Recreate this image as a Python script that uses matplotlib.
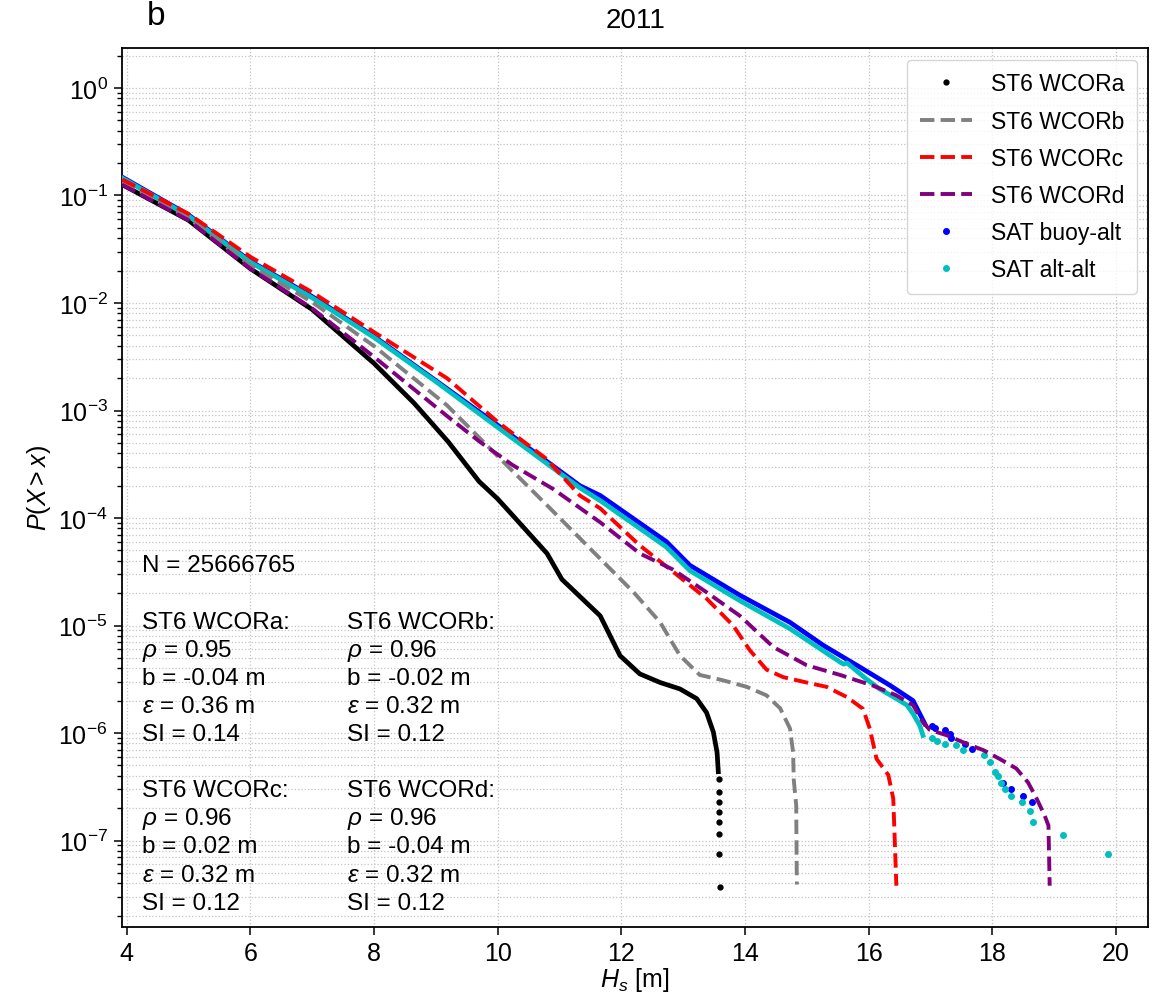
import matplotlib.pyplot as plt
from matplotlib.ticker import LogLocator, MultipleLocator, NullLocator, NullFormatter

plt.rcParams['font.family'] = ['Liberation Sans', 'DejaVu Sans']
plt.rcParams['mathtext.fontset'] = 'custom'
plt.rcParams['mathtext.rm'] = 'Liberation Sans'
plt.rcParams['mathtext.it'] = 'Liberation Sans:italic'
plt.rcParams['mathtext.bf'] = 'Liberation Sans:bold'

# exceedance probability P(X > x), Hs in m
# ST6 WCORa: dense part of the curve, then the last single points
hs_a = [3.93, 5.0, 6.0, 7.0, 8.0, 8.65, 9.2, 9.7, 10.0, 10.25, 10.8, 11.04,
        11.66, 11.98, 12.3, 12.63, 12.95, 13.22, 13.38, 13.49, 13.55, 13.57]
p_a = [0.126, 0.0589, 0.0209, 0.00871, 0.00275, 0.00117, 5.13e-4, 2.19e-4,
       1.51e-4, 1.05e-4, 4.68e-5, 2.69e-5, 1.23e-5, 5.25e-6, 3.55e-6, 2.95e-6,
       2.57e-6, 2.09e-6, 1.55e-6, 1.02e-6, 6.6e-7, 4.37e-7]
hs_a_tail = [13.58, 13.58, 13.58, 13.58, 13.58, 13.58, 13.58, 13.60]
p_a_tail = [3.76e-7, 2.82e-7, 2.28e-7, 1.84e-7, 1.49e-7, 1.14e-7, 7.5e-8, 3.7e-8]

# ST6 WCORb
hs_b = [3.93, 5.0, 6.0, 7.0, 8.0, 9.18, 10.15, 10.9, 11.87, 12.2, 12.63, 12.95,
        13.27, 13.65, 14.03, 14.35, 14.57, 14.73, 14.78, 14.79, 14.83, 14.84]
p_b = [0.135, 0.0617, 0.0224, 0.0102, 0.00398, 0.00112, 3.09e-4, 1.15e-4,
       3.16e-5, 2.04e-5, 1.07e-5, 5.25e-6, 3.47e-6, 3.09e-6, 2.69e-6, 2.24e-6,
       1.70e-6, 1.10e-6, 6.6e-7, 3.7e-7, 2.14e-7, 3.9e-8]

# ST6 WCORc
hs_c = [3.93, 5.0, 6.0, 7.0, 8.0, 9.18, 10.01, 10.79, 11.33, 11.66, 12.3, 12.84,
        13.38, 13.81, 14.08, 14.35, 14.62, 15.0, 15.32, 15.65, 15.91, 16.02,
        16.13, 16.32, 16.40, 16.45]
p_c = [0.141, 0.0676, 0.0269, 0.0126, 0.00537, 0.0020, 7.76e-4, 3.55e-4,
       1.62e-4, 1.23e-4, 5.56e-5, 3.16e-5, 1.78e-5, 1.0e-5, 5.89e-6, 3.89e-6,
       3.31e-6, 2.95e-6, 2.69e-6, 2.16e-6, 1.68e-6, 1.10e-6, 5.75e-7, 4.07e-7,
       2.45e-7, 3.8e-8]

# ST6 WCORd
hs_d = [3.93, 5.0, 6.0, 7.0, 8.0, 9.18, 9.71, 10.25, 10.9, 11.66, 12.3, 12.84,
        13.38, 13.92, 14.46, 15.0, 15.54, 16.08, 16.45, 16.72, 16.88, 16.99,
        17.26, 17.59, 17.86, 18.12, 18.39, 18.58, 18.72, 18.85, 18.91, 18.93]
p_d = [0.126, 0.0589, 0.0209, 0.00891, 0.00316, 8.91e-4, 5.13e-4, 3.09e-4,
       1.86e-4, 9.12e-5, 4.68e-5, 3.31e-5, 2.04e-5, 1.23e-5, 6.31e-6, 4.27e-6,
       3.47e-6, 2.75e-6, 2.24e-6, 1.82e-6, 1.26e-6, 1.07e-6, 9.55e-7, 7.94e-7,
       6.92e-7, 5.75e-7, 4.68e-7, 3.47e-7, 2.45e-7, 1.70e-7, 1.38e-7, 3.8e-8]

# SAT buoy-alt
hs_ba = [3.93, 5.0, 6.0, 7.0, 8.0, 9.0, 10.01, 11.33, 11.66, 12.73, 13.11,
         13.92, 14.73, 15.27, 15.81, 16.35, 16.72, 16.88, 16.91]
p_ba = [0.148, 0.0661, 0.0245, 0.0115, 0.0049, 1.9e-3, 7.24e-4, 2.0e-4,
        1.62e-4, 6.03e-5, 3.63e-5, 1.91e-5, 1.07e-5, 6.53e-6, 4.27e-6, 2.77e-6,
        2.0e-6, 1.32e-6, 1.22e-6]
hs_ba_tail = [17.02, 17.07, 17.24, 17.32, 17.34, 17.56, 17.67, 18.18, 18.31,
              18.50, 18.64]
p_ba_tail = [1.17e-6, 1.11e-6, 1.06e-6, 9.8e-7, 8.9e-7, 7.9e-7, 7.1e-7, 3.4e-7,
             3.0e-7, 2.6e-7, 2.3e-7]

# SAT alt-alt
hs_aa = [3.93, 5.0, 6.0, 7.0, 8.0, 9.0, 10.01, 11.33, 11.66, 12.73, 13.11,
         13.92, 14.73, 15.54, 15.6, 15.65, 15.97, 16.18, 16.45, 16.62, 16.72,
         16.83, 16.88]
p_aa = [0.145, 0.0646, 0.024, 0.0112, 0.00479, 1.86e-3, 6.92e-4, 1.91e-4,
        1.45e-4, 5.37e-5, 3.24e-5, 1.70e-5, 9.33e-6, 4.57e-6, 4.37e-6, 4.5e-6,
        3.16e-6, 2.57e-6, 2.09e-6, 1.82e-6, 1.51e-6, 1.17e-6, 9.5e-7]
hs_aa_tail = [17.02, 17.10, 17.24, 17.42, 17.53, 17.86, 17.96, 18.04, 18.10,
              18.15, 18.21, 18.31, 18.48, 18.61, 18.66, 19.15, 19.88]
p_aa_tail = [9.0e-7, 8.5e-7, 7.9e-7, 7.7e-7, 6.9e-7, 6.2e-7, 5.4e-7, 4.3e-7,
             4.0e-7, 3.4e-7, 3.0e-7, 2.6e-7, 2.3e-7, 1.9e-7, 1.5e-7, 1.13e-7,
             7.5e-8]

# statistics written in the lower left corner
n_obs = 25666765
runs = ['ST6 WCORa', 'ST6 WCORb', 'ST6 WCORc', 'ST6 WCORd']
rho = [0.95, 0.96, 0.96, 0.96]
bias = [-0.04, -0.02, 0.02, -0.04]
rmse = [0.36, 0.32, 0.32, 0.32]
si = [0.14, 0.12, 0.12, 0.12]

fig = plt.figure(figsize=(11.6, 10.04), dpi=100)
ax = fig.add_axes([0.10543, 0.0760, 0.88422, 0.8749])

# dot series: dense part drawn as a thick line, the sparse tail as points
ax.plot(hs_a, p_a, '-', color='k', lw=3.4, zorder=2)
ax.plot(hs_a_tail, p_a_tail, '.', color='k', ms=7, zorder=2, label='ST6 WCORa')
ax.plot(hs_b, p_b, '--', color='gray', lw=2.8, zorder=4, label='ST6 WCORb')
ax.plot(hs_c, p_c, '--', color='r', lw=2.8, zorder=4, label='ST6 WCORc')
ax.plot(hs_d, p_d, '--', color='purple', lw=2.8, zorder=4, label='ST6 WCORd')
ax.plot(hs_ba, p_ba, '-', color='b', lw=3.4, zorder=3)
ax.plot(hs_ba_tail, p_ba_tail, '.', color='b', ms=8, zorder=3,
        label='SAT buoy-alt')
ax.plot(hs_aa, p_aa, '-', color='c', lw=3.4, zorder=3)
ax.plot(hs_aa_tail, p_aa_tail, '.', color='c', ms=8, zorder=3,
        label='SAT alt-alt')

ax.set_yscale('log')
ax.set_xlim(3.93, 20.52)
ax.set_ylim(1.58e-8, 2.34)
ax.xaxis.set_major_locator(MultipleLocator(2))
ax.xaxis.set_minor_locator(NullLocator())
ax.yaxis.set_major_locator(LogLocator(base=10, numticks=30))
ax.yaxis.set_minor_locator(LogLocator(base=10, subs=range(2, 10), numticks=30))
ax.yaxis.set_minor_formatter(NullFormatter())
ax.tick_params(which='major', labelsize=18, length=5.5, width=1.1, pad=5)
ax.tick_params(which='minor', length=3.5, width=1.0)
for s in ax.spines.values():
    s.set_linewidth(1.3)

ax.grid(True, which='major', linestyle=':', color='#c4c4c4', lw=0.9)
ax.grid(True, which='minor', axis='y', linestyle=':', color='#c4c4c4', lw=0.9)

ax.set_xlabel('$H_s$ [m]', fontsize=18, labelpad=0)
ax.set_ylabel('$P(X > x)$', fontsize=18, labelpad=4)
ax.set_title('2011', fontsize=20, pad=15)
ax.text(0.024, 1.02, 'b', transform=ax.transAxes, fontsize=24,
        ha='left', va='bottom')

ax.legend(loc='upper right', fontsize=16.5, labelspacing=0.62,
          handlelength=2.3, borderpad=0.55)

# statistics text
fs = 17.5
step = 0.0321
ax.text(0.019, 0.4053, f'N = {n_obs}', transform=ax.transAxes, fontsize=fs)
col_x = [0.019, 0.219, 0.019, 0.219]
row_y = [0.3404, 0.3404, 0.1488, 0.1488]
for i, run in enumerate(runs):
    lines = [f'{run}:',
             rf'$\rho$ = {rho[i]:.2f}',
             f'b = {bias[i]:.2f} m',
             rf'$\varepsilon$ = {rmse[i]:.2f} m',
             f'SI = {si[i]:.2f}']
    for j, line in enumerate(lines):
        ax.text(col_x[i], row_y[i] - j * step, line, transform=ax.transAxes,
                fontsize=fs, va='baseline')

plt.savefig('out.png', dpi=100)
